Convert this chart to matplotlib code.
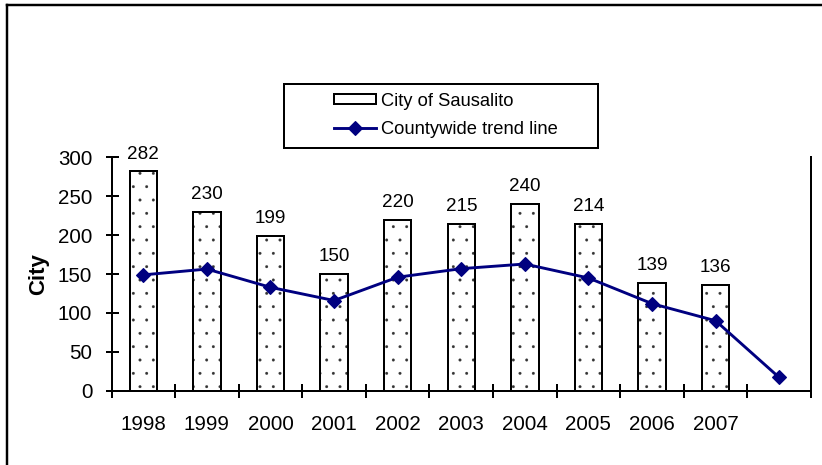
import matplotlib
matplotlib.use("Agg")
import matplotlib.pyplot as plt
from matplotlib.patches import Rectangle, Patch
from matplotlib.lines import Line2D
import numpy as np

plt.rcParams['font.family'] = ['Liberation Sans', 'DejaVu Sans']
plt.rcParams['hatch.linewidth'] = 0.2

# ---- data ----
categories = ['1998', '1999', '2000', '2001', '2002', '2003', '2004', '2005', '2006', '2007', '']
city_values = [282, 230, 199, 150, 220, 215, 240, 214, 139, 136]
county_trend = [149, 156.5, 133, 116, 146, 157, 163, 145, 112, 90, 17]
yticks = [0, 50, 100, 150, 200, 250, 300]
bar_label_name = 'City of Sausalito'
line_label_name = 'Countywide trend line'
y_title = 'City'

W, H, DPI = 822, 465, 80
fig = plt.figure(figsize=(W / DPI, H / DPI), dpi=DPI)

def fx(px):
    return px / W

def fy(py):
    return 1 - py / H

ax = fig.add_axes([fx(111.5), fy(390.7), fx(811) - fx(111.5), fy(157.5) - fy(390.7)])

x = np.arange(len(categories))
xb = x[:len(city_values)]
# dotted fill (grey dots) then black outline on top
ax.bar(xb, city_values, width=0.43, facecolor='white', edgecolor='#333333',
       linewidth=0, hatch='.', zorder=2)
bars = ax.bar(xb, city_values, width=0.43, facecolor='none', edgecolor='black',
              linewidth=1.8, zorder=2.5)
line, = ax.plot(x, county_trend, color='#000080', linewidth=2.6, marker='D',
                markersize=8.5, zorder=3)

ax.bar_label(bars, labels=[str(v) for v in city_values], padding=8, fontsize=17)

ax.set_xlim(-0.5, len(categories) - 0.5)
ax.set_ylim(0, 300)
ax.set_yticks(yticks)
ax.set_yticklabels([str(v) for v in yticks])

# boundaries as major ticks, labels at category centers as minor ticks
ax.set_xticks(np.arange(-0.5, len(categories), 1.0))
ax.set_xticklabels([])
ax.set_xticks(x, minor=True)
ax.set_xticklabels(categories, minor=True)

ax.tick_params(axis='y', which='major', direction='inout', length=11.7, width=1.8,
               labelsize=18.5, pad=11.4)
ax.tick_params(axis='x', which='major', direction='inout', length=12.6, width=1.8)
ax.tick_params(axis='x', which='minor', direction='out', length=0, labelsize=18.5, pad=22)

for s in ['left', 'bottom', 'right']:
    ax.spines[s].set_linewidth(1.8)
ax.spines['top'].set_visible(False)

ax.set_ylabel(y_title, fontsize=20, fontweight='bold')
ax.yaxis.set_label_coords((49 - 111.5) / (811 - 111.5), 0.5)

# legend
bar_handle = Patch(facecolor='white', edgecolor='black', linewidth=1.8, hatch='.')
line_handle = Line2D([], [], color='#000080', linewidth=2.6, marker='D', markersize=8.5)
leg = fig.legend(handles=[bar_handle, line_handle], labels=[bar_label_name, line_label_name],
                 loc='center', bbox_to_anchor=(fx(446), fy(115)), frameon=False,
                 fontsize=16.5, handlelength=2.3, handleheight=0.45, handletextpad=0.28,
                 labelspacing=0.6, borderpad=0)
fig.add_artist(Rectangle((fx(284), fy(148)), fx(598) - fx(284), fy(84) - fy(148),
                         transform=fig.transFigure, fill=False, edgecolor='black',
                         linewidth=1.8))

# outer frame (left and top borders)
fig.add_artist(Line2D([fx(7), fx(7)], [fy(5), 0], transform=fig.transFigure,
                      color='black', linewidth=2.2))
fig.add_artist(Line2D([fx(7), 1], [fy(5), fy(5)], transform=fig.transFigure,
                      color='black', linewidth=2.2))

fig.savefig('out.png', dpi=DPI)
